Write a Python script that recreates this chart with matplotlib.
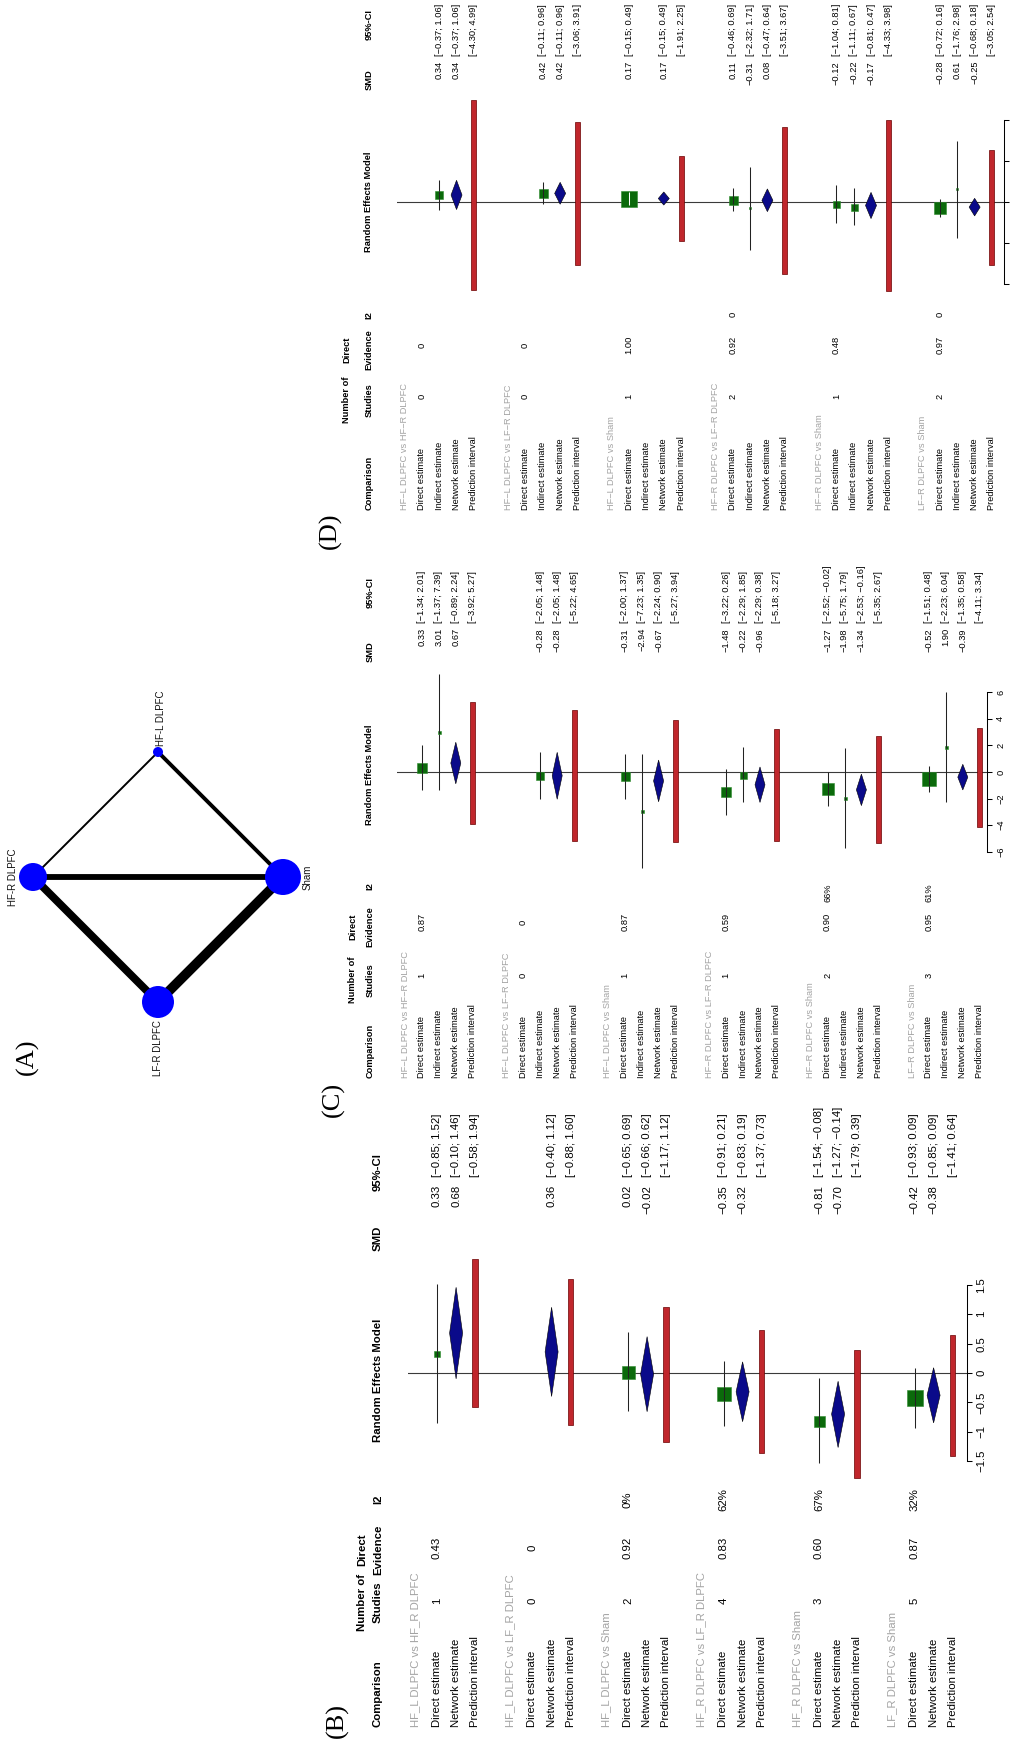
import numpy as np
import matplotlib
matplotlib.use('Agg')
import matplotlib.pyplot as plt
from matplotlib import font_manager

W, H, DPI = 1015, 1741, 100
MINUS = '\u2212'
nan = np.nan

# ---------------- data ----------------
# (A) network
net_nodes = ['HF-L DLPFC', 'HF-R DLPFC', 'Sham', 'LF-R DLPFC']
net_edge_from = ['HF-L DLPFC', 'HF-L DLPFC', 'HF-R DLPFC', 'HF-R DLPFC', 'LF-R DLPFC']
net_edge_to = ['HF-R DLPFC', 'Sham', 'Sham', 'LF-R DLPFC', 'Sham']
net_edge_studies = [1, 2, 3, 4, 5]

rows_B = ['Direct estimate', 'Network estimate', 'Prediction interval']
rows_CD = ['Direct estimate', 'Indirect estimate', 'Network estimate', 'Prediction interval']

# (B)
B_comp = ['HF_L DLPFC vs HF_R DLPFC', 'HF_L DLPFC vs LF_R DLPFC', 'HF_L DLPFC vs Sham',
          'HF_R DLPFC vs LF_R DLPFC', 'HF_R DLPFC vs Sham', 'LF_R DLPFC vs Sham']
B_nstud = ['1', '0', '2', '4', '3', '5']
B_direct_ev = ['0.43', '0', '0.92', '0.83', '0.60', '0.87']
B_i2 = ['', '', '0%', '62%', '67%', '32%']
B_dir_te = [0.33, nan, 0.02, -0.35, -0.81, -0.42]
B_dir_lo = [-0.85, nan, -0.65, -0.91, -1.54, -0.93]
B_dir_hi = [1.52, nan, 0.69, 0.21, -0.08, 0.09]
B_net_te = [0.68, 0.36, -0.02, -0.32, -0.70, -0.38]
B_net_lo = [-0.10, -0.40, -0.66, -0.83, -1.27, -0.85]
B_net_hi = [1.46, 1.12, 0.62, 0.19, -0.14, 0.09]
B_pi_lo = [-0.58, -0.88, -1.17, -1.37, -1.79, -1.41]
B_pi_hi = [1.94, 1.60, 1.12, 0.73, 0.39, 0.64]

# (C)
CD_comp = ['HF\u2212L DLPFC vs HF\u2212R DLPFC', 'HF\u2212L DLPFC vs LF\u2212R DLPFC', 'HF\u2212L DLPFC vs Sham',
           'HF\u2212R DLPFC vs LF\u2212R DLPFC', 'HF\u2212R DLPFC vs Sham', 'LF\u2212R DLPFC vs Sham']
C_nstud = ['1', '0', '1', '1', '2', '3']
C_direct_ev = ['0.87', '0', '0.87', '0.59', '0.90', '0.95']
C_i2 = ['', '', '', '', '66%', '61%']
C_dir_te = [0.33, nan, -0.31, -1.48, -1.27, -0.52]
C_dir_lo = [-1.34, nan, -2.00, -3.22, -2.52, -1.51]
C_dir_hi = [2.01, nan, 1.37, 0.26, -0.02, 0.48]
C_ind_te = [3.01, -0.28, -2.94, -0.22, -1.98, 1.90]
C_ind_lo = [-1.37, -2.05, -7.23, -2.29, -5.75, -2.23]
C_ind_hi = [7.39, 1.48, 1.35, 1.85, 1.79, 6.04]
C_net_te = [0.67, -0.28, -0.67, -0.96, -1.34, -0.39]
C_net_lo = [-0.89, -2.05, -2.24, -2.29, -2.53, -1.35]
C_net_hi = [2.24, 1.48, 0.90, 0.38, -0.16, 0.58]
C_pi_lo = [-3.92, -5.22, -5.27, -5.18, -5.35, -4.11]
C_pi_hi = [5.27, 4.65, 3.94, 3.27, 2.67, 3.34]

# (D)
D_nstud = ['0', '0', '1', '2', '1', '2']
D_direct_ev = ['0', '0', '1.00', '0.92', '0.48', '0.97']
D_i2 = ['', '', '', '0', '', '0']
D_dir_te = [nan, nan, 0.17, 0.11, -0.12, -0.28]
D_dir_lo = [nan, nan, -0.15, -0.46, -1.04, -0.72]
D_dir_hi = [nan, nan, 0.49, 0.69, 0.81, 0.16]
D_ind_te = [0.34, 0.42, nan, -0.31, -0.22, 0.61]
D_ind_lo = [-0.37, -0.11, nan, -2.32, -1.11, -1.76]
D_ind_hi = [1.06, 0.96, nan, 1.71, 0.67, 2.98]
D_net_te = [0.34, 0.42, 0.17, 0.08, -0.17, -0.25]
D_net_lo = [-0.37, -0.11, -0.15, -0.47, -0.81, -0.68]
D_net_hi = [1.06, 0.96, 0.49, 0.64, 0.47, 0.18]
D_pi_lo = [-4.30, -3.06, -1.91, -3.51, -4.33, -3.05]
D_pi_hi = [4.99, 3.91, 2.25, 3.67, 3.98, 2.54]

B_ticks = [-1.5, -1, -0.5, 0, 0.5, 1, 1.5]
C_ticks = [-6, -4, -2, 0, 2, 4, 6]
D_ticks = [-4, -2, 0, 2, 4]

# ---------------- styles (marker sizes in px) ----------------
B_dir_sq = [6, nan, 13, 14, 11, 16]
C_dir_sq = [10, nan, 9, 10, 12, 14]
C_ind_sq = [3, 8, 3, 7, 3, 3]
D_dir_sq = [nan, nan, 16, 9, 7, 12]
D_ind_sq = [8, 9, nan, 2.5, 7, 2.5]

PX = 72.0 / DPI  # points per pixel

names = {f.name for f in font_manager.fontManager.ttflist}
SANS = 'Liberation Sans' if 'Liberation Sans' in names else 'DejaVu Sans'
if 'Liberation Sans Narrow' in names:
    NARROW, NARROW_SIZE = 'Liberation Sans Narrow', 8.0
else:
    NARROW, NARROW_SIZE = SANS, 6.7
SERIF = 'Liberation Serif' if 'Liberation Serif' in names else 'DejaVu Serif'

GREEN, GREEN_EDGE = '#0B6A0B', '#2E8B2E'
NAVY = '#0A0A8A'
RED, RED_EDGE = '#C0262C', '#6A0000'
GRAY = '#A3A3A3'

fig = plt.figure(figsize=(W / DPI, H / DPI), dpi=DPI)
fig.patch.set_facecolor('white')

tax = fig.add_axes([0, 0, 1, 1])
tax.set_xlim(0, W)
tax.set_ylim(H, 0)
tax.axis('off')


def rtext(x, y, s, align='center', **kw):
    va = {'start': 'bottom', 'end': 'top', 'center': 'center'}[align]
    tax.text(x, y, s, rotation=90, ha='center', va=va, **kw)


def fmt(v):
    return f'{v:.2f}'.replace('-', MINUS)


def fmt_ci(lo, hi):
    return '[' + fmt(lo) + '; ' + fmt(hi) + ']'


def fmt_tick(v):
    s = f'{v:g}'
    return s.replace('-', MINUS)


def draw_panel(L, D):
    fam, fs = L['family'], L['size']
    first, lh, G = L['first'], L['lh'], L['G']
    px = lambda k: first + k * lh
    nrows = len(D['rows'])

    # panel letter
    rtext(L['letter_x'], L['letter_y'], L['letter'], 'center', family=SERIF, fontsize=19)

    # headers
    hb = dict(family=fam, fontsize=fs, fontweight='bold', color='black')
    rtext(L['hdr_lo'], L['text_start'], 'Comparison', 'start', **hb)
    rtext(L['hdr_hi'], L['h_nstud'], 'Number of', 'center', **hb)
    rtext(L['hdr_lo'], L['h_nstud'], 'Studies', 'center', **hb)
    rtext(L['hdr_hi'], L['h_de'], 'Direct', 'center', **hb)
    rtext(L['hdr_lo'], L['h_de'], 'Evidence', 'center', **hb)
    rtext(L['hdr_lo'], L['h_i2'], 'I2', 'center', **hb)
    rtext(L['hdr_lo'], L['h_rem'], 'Random Effects Model', 'center', **hb)
    rtext(L['hdr_lo'], L['h_smd'], 'SMD', 'center', **hb)
    rtext(L['hdr_lo'], L['h_ci'], '95%-CI', 'center', **hb)

    tn = dict(family=fam, fontsize=fs, color='black')
    for g, comp in enumerate(D['comp']):
        base = g * G
        rtext(px(base + L['label_off']), L['text_start'], comp, 'start',
              family=fam, fontsize=fs, color=GRAY)
        for r, rn in enumerate(D['rows']):
            rtext(px(base + r), L['text_start'], rn, 'start', **tn)
        rtext(px(base), L['v_nstud'], D['nstud'][g], 'center', **tn)
        rtext(px(base), L['v_de'], D['de'][g], 'center', **tn)
        if D['i2'][g]:
            rtext(px(base), L['v_i2'], D['i2'][g], 'center', **tn)
        for r, (te, lo, hi) in enumerate(D['est']):
            if not np.isnan(te[g]):
                rtext(px(base + r), L['v_smd'], fmt(te[g]), 'end', **tn)
                rtext(px(base + r), L['v_ci'], fmt_ci(lo[g], hi[g]), 'start', **tn)
        rtext(px(base + nrows - 1), L['v_ci'], fmt_ci(D['pi_lo'][g], D['pi_hi'][g]), 'start', **tn)

    # forest axes
    x0, x1, y0, y1 = L['fx0'], L['fx1'], L['fy0'], L['fy1']
    zero, ppu = L['zero'], L['ppu']
    ax = fig.add_axes([x0 / W, 1 - y1 / H, (x1 - x0) / W, (y1 - y0) / H])
    ax.patch.set_alpha(0)
    ax.set_xlim((x0 - first) / lh, (x1 - first) / lh)
    ax.set_ylim((zero - y1) / ppu, (zero - y0) / ppu)
    for s in ['left', 'top', 'bottom']:
        ax.spines[s].set_visible(False)
    ticks = D['ticks']
    ax.spines['right'].set_bounds(ticks[0], ticks[-1])
    ax.spines['right'].set_linewidth(0.75)
    ax.set_xticks([])
    ax.yaxis.set_ticks_position('right')
    ax.set_yticks(ticks)
    if L['ticklabels']:
        ax.set_yticklabels([fmt_tick(t) for t in ticks], rotation=90, va='center',
                           family=fam, fontsize=fs)
    else:
        ax.set_yticklabels([])
    ax.tick_params(axis='y', direction='out', length=3.6, width=0.75, pad=3)
    ax.axhline(0, color='#3a3a3a', lw=0.8, zorder=1)

    hw = L['dia_hw'] / lh
    barw = L['pi_w'] / lh
    sq_rows = D['sq_rows']
    for g in range(len(D['comp'])):
        base = g * G
        # squares with CI lines (direct / indirect)
        for r, (te, lo, hi) in enumerate(D['est']):
            if r not in sq_rows:
                continue
            if np.isnan(te[g]):
                continue
            k = base + r
            side = D['sq'][r][g]
            inside = (hi[g] - lo[g]) * ppu < side
            ax.plot([k, k], [lo[g], hi[g]], color='#222222', lw=0.75, zorder=2,
                    solid_capstyle='butt')
            ax.scatter([k], [te[g]], marker='s', s=(side * PX) ** 2, color=GREEN,
                       edgecolors=GREEN_EDGE, linewidths=0.4, zorder=3)
            ax.plot([k, k], [max(lo[g], te[g] - side / 2 / ppu), min(hi[g], te[g] + side / 2 / ppu)],
                    color='white' if inside else '#222222', lw=0.75, zorder=4,
                    solid_capstyle='butt')
        # network diamond
        te, lo, hi = D['est'][D['net_row']]
        k = base + D['net_row']
        ax.fill([k, k + hw, k, k - hw], [lo[g], te[g], hi[g], te[g]],
                facecolor=NAVY, edgecolor='black', lw=0.4, zorder=3)
        # prediction interval bar
        k = base + nrows - 1
        ax.bar([k], [D['pi_hi'][g] - D['pi_lo'][g]], bottom=[D['pi_lo'][g]], width=barw,
               color=RED, edgecolor=RED_EDGE, linewidth=0.5, zorder=3)
    return ax


# ---------------- (A) network ----------------
rtext(27, 1057, '(A)', 'center', family=SERIF, fontsize=19)
nax = fig.add_axes([0 / W, 1 - 1034 / H, 316 / W, 314 / H])
nax.patch.set_alpha(0)
nax.axis('off')
nax.set_xlim(-1.264, 1.264)
nax.set_ylim(-1.256, 1.256)
layout = {'HF-L DLPFC': (0, 1), 'HF-R DLPFC': (-1, 0), 'Sham': (1, 0), 'LF-R DLPFC': (0, -1)}
node_px = {'HF-L DLPFC': 10, 'HF-R DLPFC': 28, 'Sham': 36, 'LF-R DLPFC': 32}
for a, b, n in zip(net_edge_from, net_edge_to, net_edge_studies):
    (xa, ya), (xb, yb) = layout[a], layout[b]
    nax.plot([xa, xb], [ya, yb], color='black', lw=1.95 * n * PX, solid_capstyle='butt', zorder=1)
for nd in net_nodes:
    x, y = layout[nd]
    nax.scatter([x], [y], s=(node_px[nd] * PX) ** 2, color='#0000FF', edgecolors='none', zorder=2)
lab_kw = dict(family=SANS, fontsize=7, rotation=90, color='#111111')
nax.annotate('HF-L DLPFC', layout['HF-L DLPFC'], xytext=(3 * PX, 6 * PX), textcoords='offset points',
             ha='center', va='bottom', **lab_kw)
nax.annotate('HF-R DLPFC', layout['HF-R DLPFC'], xytext=(-20 * PX, 0), textcoords='offset points',
             ha='center', va='center', **lab_kw)
nax.annotate('Sham', layout['Sham'], xytext=(25 * PX, 0), textcoords='offset points',
             ha='center', va='center', **lab_kw)
nax.annotate('LF-R DLPFC', layout['LF-R DLPFC'], xytext=(0, -18 * PX), textcoords='offset points',
             ha='center', va='top', **lab_kw)

# ---------------- (B) ----------------
LB = dict(family=SANS, size=8.2, first=437, lh=19.1, G=5, label_off=-1.15,
          letter='(B)', letter_x=337, letter_y=1720,
          text_start=1727, hdr_hi=362, hdr_lo=378,
          h_nstud=1602, h_de=1550, h_i2=1499, h_rem=1380, h_smd=1238, h_ci=1172,
          v_nstud=1601, v_de=1548, v_i2=1500, v_smd=1185, v_ci=1177,
          fx0=408, fx1=967, fy0=1240, fy1=1490, zero=1373, ppu=58.7,
          ticklabels=True, dia_hw=6.5, pi_w=5.5)
DB = dict(comp=B_comp, rows=rows_B, nstud=B_nstud, de=B_direct_ev, i2=B_i2,
          est=[(B_dir_te, B_dir_lo, B_dir_hi), (B_net_te, B_net_lo, B_net_hi)],
          sq_rows=[0], sq={0: B_dir_sq}, net_row=1,
          pi_lo=B_pi_lo, pi_hi=B_pi_hi, ticks=B_ticks)
draw_panel(LB, DB)

# ---------------- (C) ----------------
LC = dict(family=NARROW, size=NARROW_SIZE, first=422, lh=16.9, G=6, label_off=-1,
          letter='(C)', letter_x=333, letter_y=1099,
          text_start=1078, hdr_hi=353, hdr_lo=370,
          h_nstud=980, h_de=927, h_i2=886, h_rem=775, h_smd=652, h_ci=592,
          v_nstud=975, v_de=922, v_i2=893, v_smd=628, v_ci=623,
          fx0=397, fx1=987, fy0=660, fy1=885, zero=772, ppu=13.3,
          ticklabels=True, dia_hw=5.0, pi_w=5.0)
DC = dict(comp=CD_comp, rows=rows_CD, nstud=C_nstud, de=C_direct_ev, i2=C_i2,
          est=[(C_dir_te, C_dir_lo, C_dir_hi), (C_ind_te, C_ind_lo, C_ind_hi),
               (C_net_te, C_net_lo, C_net_hi)],
          sq_rows=[0, 1], sq={0: C_dir_sq, 1: C_ind_sq}, net_row=2,
          pi_lo=C_pi_lo, pi_hi=C_pi_hi, ticks=C_ticks)
draw_panel(LC, DC)

# ---------------- (D) ----------------
LD = dict(family=NARROW, size=NARROW_SIZE, first=422, lh=17.27, G=6, label_off=-1,
          letter='(D)', letter_x=330, letter_y=531,
          text_start=510, hdr_hi=347, hdr_lo=369,
          h_nstud=400, h_de=350, h_i2=315, h_rem=202, h_smd=80, h_ci=25,
          v_nstud=396, v_de=345, v_i2=314, v_smd=61, v_ci=56,
          fx0=397, fx1=1004, fy0=90, fy1=300, zero=202, ppu=20.5,
          ticklabels=False, dia_hw=5.5, pi_w=5.0)
DD = dict(comp=CD_comp, rows=rows_CD, nstud=D_nstud, de=D_direct_ev, i2=D_i2,
          est=[(D_dir_te, D_dir_lo, D_dir_hi), (D_ind_te, D_ind_lo, D_ind_hi),
               (D_net_te, D_net_lo, D_net_hi)],
          sq_rows=[0, 1], sq={0: D_dir_sq, 1: D_ind_sq}, net_row=2,
          pi_lo=D_pi_lo, pi_hi=D_pi_hi, ticks=D_ticks)
draw_panel(LD, DD)

fig.savefig('out.png', dpi=DPI, facecolor='white')
